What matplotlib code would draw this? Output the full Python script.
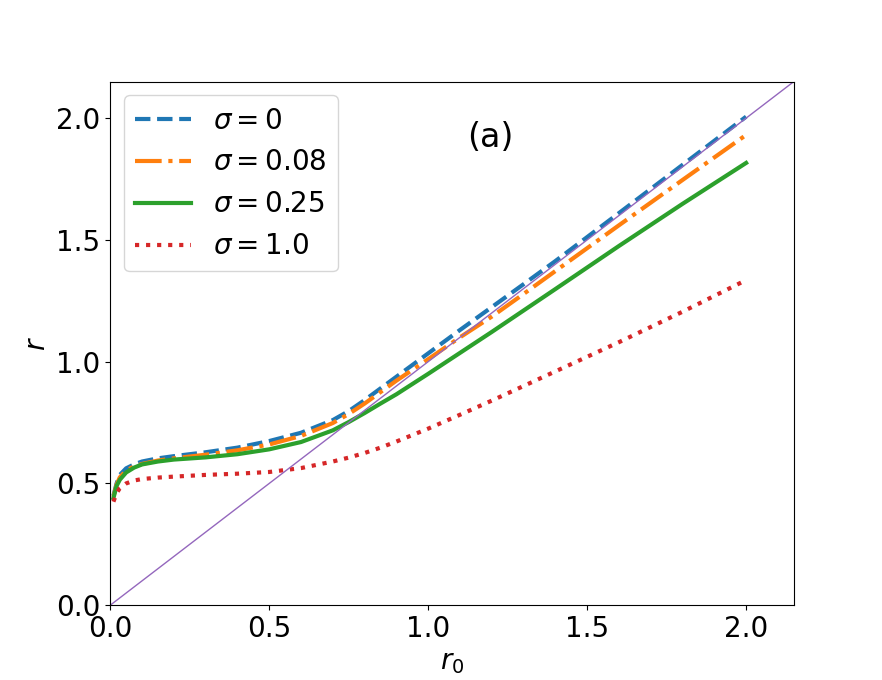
import matplotlib
matplotlib.use("Agg")
import matplotlib.pyplot as plt

r0 = [0.01, 0.02, 0.03, 0.05, 0.075, 0.1, 0.15, 0.2, 0.3, 0.4, 0.5, 0.6, 0.7,
      0.75, 0.8, 0.85, 0.9, 1.0, 1.1, 1.2, 1.3, 1.4, 1.6, 1.8, 2.0]
r_sig0 = [0.45, 0.50, 0.535, 0.562, 0.578, 0.590, 0.603, 0.612, 0.628, 0.647, 0.674,
          0.708, 0.76, 0.797, 0.842, 0.89, 0.938, 1.034, 1.13, 1.224, 1.318, 1.413,
          1.61, 1.808, 2.006]
r_sig008 = [0.445, 0.495, 0.525, 0.553, 0.57, 0.58, 0.594, 0.603, 0.618, 0.636, 0.66,
            0.695, 0.748, 0.785, 0.828, 0.875, 0.922, 1.01, 1.1, 1.185, 1.278, 1.372,
            1.56, 1.746, 1.931]
r_sig025 = [0.44, 0.49, 0.515, 0.545, 0.565, 0.578, 0.59, 0.598, 0.607, 0.62, 0.64,
            0.67, 0.718, 0.752, 0.789, 0.828, 0.866, 0.95, 1.036, 1.122, 1.21, 1.298,
            1.475, 1.648, 1.816]
r_sig1 = [0.425, 0.46, 0.48, 0.50, 0.512, 0.518, 0.524, 0.528, 0.535, 0.54, 0.547,
          0.563, 0.59, 0.606, 0.625, 0.647, 0.672, 0.725, 0.782, 0.84, 0.9, 0.96,
          1.08, 1.205, 1.335]
labels = [r"$\sigma = 0$", r"$\sigma = 0.08$", r"$\sigma = 0.25$", r"$\sigma = 1.0$"]
styles = ["--", "-.", "-", ":"]
colors = ["C0", "C1", "C2", "C3"]

fig, ax = plt.subplots(figsize=(8.82, 6.8), dpi=100)
for ys, lab, ls, c in zip([r_sig0, r_sig008, r_sig025, r_sig1], labels, styles, colors):
    ax.plot(r0, ys, ls, color=c, lw=3, label=lab)
diag = [0, 2.2]
ax.plot(diag, diag, color="C4", lw=1)
ax.set_xlim(0, 2.15)
ax.set_ylim(0, 2.15)
ax.set_xticks([0.0, 0.5, 1.0, 1.5, 2.0])
ax.set_yticks([0.0, 0.5, 1.0, 1.5, 2.0])
ax.tick_params(labelsize=20)
ax.set_xlabel(r"$r_0$", fontsize=20)
ax.set_ylabel(r"$r$", fontsize=20)
ax.text(1.195, 1.92, "(a)", fontsize=24, ha="center", va="center")
ax.legend(loc="upper left", fontsize=20)
fig.savefig("out.png", dpi=100)
